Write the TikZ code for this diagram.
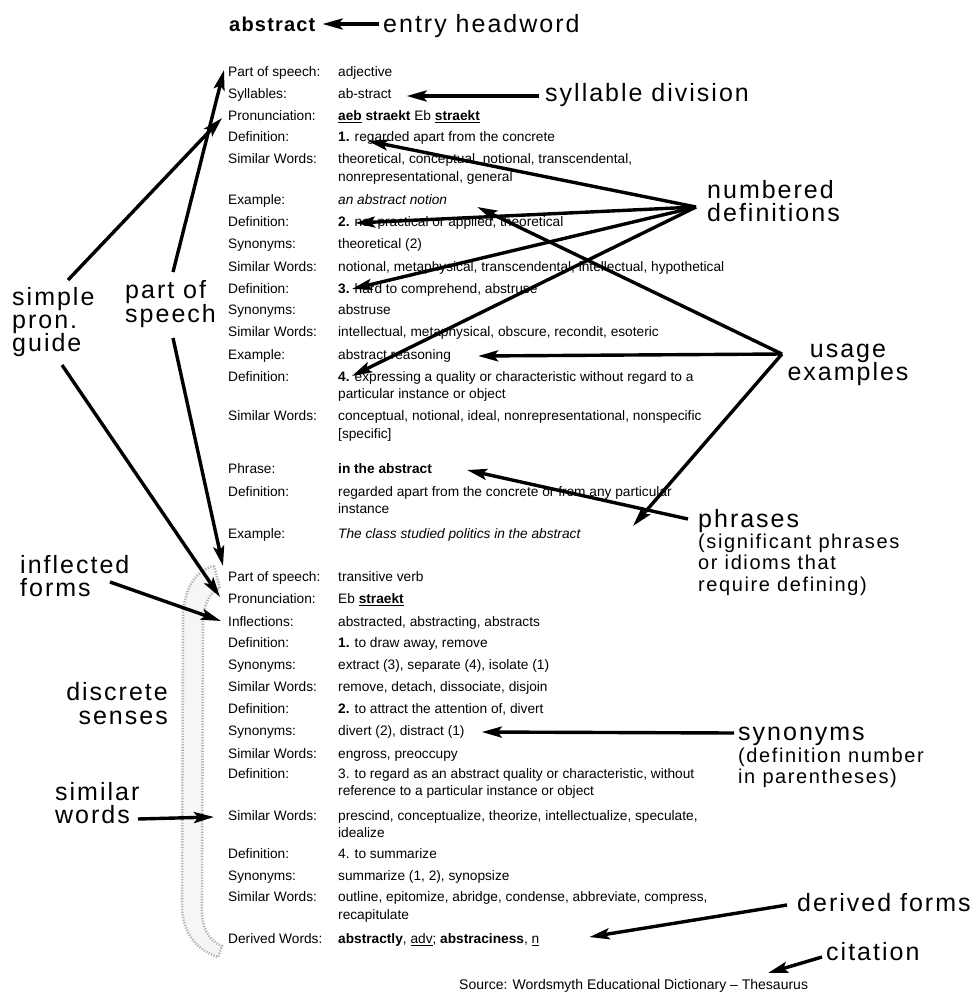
\documentclass[tikz,border=0pt]{standalone}
\usepackage{fontspec}
\setmainfont{Liberation Sans}
\newfontfamily\callfont[LetterSpace=8]{Liberation Sans}
\newfontfamily\headfont[LetterSpace=6]{Liberation Sans}
\usetikzlibrary{arrows.meta,calc}
\tikzset{
  lab/.style={anchor=west,inner sep=0pt,font=\fontsize{13.7}{17}\selectfont,text height=10pt,text depth=3pt},
  call/.style={anchor=north west,align=left,inner sep=0pt,font=\callfont\fontsize{25}{23}\selectfont},
  callwide/.style={call,font=\callfont\fontsize{25}{24}\selectfont},
  callc/.style={call,anchor=north,align=center},
  callr/.style={callwide,anchor=north east,align=right},
  sub/.style={anchor=north west,align=left,inner sep=0pt,font=\callfont\fontsize{20}{21.6}\selectfont},
  arr/.style={draw=black,line width=3.4pt,-{Stealth[length=20pt,width=11pt,inset=4pt]}},
  band/.style={draw=gray!60,line width=2.6pt,dash pattern=on 1.2pt off 1.5pt,fill=gray!7},
}
\newcommand\dictrow[4]{\node[lab] (l#1) at (228,#2) {#3};\node[lab] (v#1) at (338,#2) {#4};}
\newcommand\dictcont[3]{\node[lab] (v#1) at (338,#2) {#3};}
\begin{document}
\lineskiplimit=-100pt\relax
\begin{tikzpicture}[x=1pt,y=-1pt]
\useasboundingbox[fill=white] (0,0) rectangle (980,994);
% discrete senses band
\path[band] (214,566) .. controls (195,570) and (184,590) .. (183,615) -- (182,905)
  .. controls (182,932) and (196,950) .. (218,957) -- (222,946)
  .. controls (207,940) and (201,925) .. (202,905) -- (203,622)
  .. controls (204,603) and (210,592) .. (220,588) -- cycle;
% headword
\node[inner sep=0pt,anchor=base west,font=\headfont\bfseries\fontsize{20}{24}\selectfont] (abstract) at (229,31) {abstract};
% entry rows
\dictrow{1}{73}{Part of speech:}{adjective}
\dictrow{2}{95}{Syllables:}{ab-stract}
\dictrow{3}{117}{Pronunciation:}{\textbf{\underline{aeb}} \textbf{straekt} Eb \textbf{\underline{straekt}}}
\dictrow{4}{138}{Definition:}{\textbf{1.} regarded apart from the concrete}
\dictrow{5}{160}{Similar Words:}{theoretical, conceptual, notional, transcendental,}
\dictcont{5b}{178}{nonrepresentational, general}
\dictrow{6}{201}{Example:}{\textit{an abstract notion}}
\dictrow{7}{223}{Definition:}{\textbf{2.} not practical or applied, theoretical}
\dictrow{8}{245}{Synonyms:}{theoretical (2)}
\dictrow{9}{268}{Similar Words:}{notional, metaphysical, transcendental, intellectual, hypothetical}
\dictrow{10}{290}{Definition:}{\textbf{3.} hard to comprehend, abstruse}
\dictrow{11}{311}{Synonyms:}{abstruse}
\dictrow{12}{333}{Similar Words:}{intellectual, metaphysical, obscure, recondit, esoteric}
\dictrow{13}{356}{Example:}{abstract reasoning}
\dictrow{14}{378}{Definition:}{\textbf{4.} expressing a quality or characteristic without regard to a}
\dictcont{14b}{395}{particular instance or object}
\dictrow{15}{417}{Similar Words:}{conceptual, notional, ideal, nonrepresentational, nonspecific}
\dictcont{15b}{435}{[specific]}
\dictrow{16}{470}{Phrase:}{\textbf{in the abstract}}
\dictrow{17}{493}{Definition:}{regarded apart from the concrete or from any particular}
\dictcont{17b}{510}{instance}
\dictrow{18}{535}{Example:}{\textit{The class studied politics in the abstract}}
\dictrow{19}{578}{Part of speech:}{transitive verb}
\dictrow{20}{600}{Pronunciation:}{Eb \textbf{\underline{straekt}}}
\dictrow{21}{623}{Inflections:}{abstracted, abstracting, abstracts}
\dictrow{22}{644}{Definition:}{\textbf{1.} to draw away, remove}
\dictrow{23}{666}{Synonyms:}{extract (3), separate (4), isolate (1)}
\dictrow{24}{688}{Similar Words:}{remove, detach, dissociate, disjoin}
\dictrow{25}{710}{Definition:}{\textbf{2.} to attract the attention of, divert}
\dictrow{26}{732}{Synonyms:}{divert (2), distract (1)}
\dictrow{27}{755}{Similar Words:}{engross, preoccupy}
\dictrow{28}{775}{Definition:}{3. to regard as an abstract quality or characteristic, without}
\dictcont{28b}{792}{reference to a particular instance or object}
\dictrow{29}{817}{Similar Words:}{prescind, conceptualize, theorize, intellectualize, speculate,}
\dictcont{29b}{834}{idealize}
\dictrow{30}{855}{Definition:}{4. to summarize}
\dictrow{31}{877}{Synonyms:}{summarize (1, 2), synopsize}
\dictrow{32}{898}{Similar Words:}{outline, epitomize, abridge, condense, abbreviate, compress,}
\dictcont{32b}{916}{recapitulate}
\dictrow{33}{940}{Derived Words:}{\textbf{abstractly}, \underline{adv}; \textbf{abstraciness}, \underline{n}}
\node[anchor=base west,inner sep=0pt,font=\fontsize{14}{17}\selectfont] (src) at (459,989) {Source: Wordsmyth Educational Dictionary – Thesaurus};
% callout labels
\node[call] (headw) at (383,14) {entry headword};
\node[call] (syll) at (545,83) {syllable division};
\node[call] (numb) at (707,180) {numbered\\definitions};
\node[callc] (usage) at (848,344) {usage\\examples};
\node[call] (phr) at (698,509) {phrases};
\node[sub] (phrsub) at (698,533.5) {(significant phrases\\or idioms that\\require defining)};
\node[call] (syn) at (738,727) {synonyms};
\node[sub] (synsub) at (738,747.5) {(definition number\\in parentheses)};
\node[call] (der) at (797,893) {derived forms};
\node[call] (cit) at (826,942) {citation};
\node[call] (simp) at (12,287) {simple\\pron.\\guide};
\node[callwide] (pos) at (125,280) {part of\\speech};
\node[call] (infl) at (20,555) {inflected\\forms};
\node[callr] (disc) at (168,682) {discrete\\senses};
\node[call] (sim) at (55,782) {similar\\words};
% arrows
\draw[arr] ($(headw.north west)+(-4,10)$) -- ($(abstract.base east)+(7,-7)$);
\draw[arr] ($(syll.north west)+(-6,13)$) -- ($(v2.east)+(15,1)$);
\coordinate (nd) at ($(numb.north west)+(-11,27)$);
\draw[arr] (nd) -- ($(v4.west)+(30,3)$);
\draw[arr] (nd) -- ($(v7.west)+(17,0)$);
\draw[arr] (nd) -- ($(v10.west)+(14,-1)$);
\draw[arr] (nd) -- ($(v14.west)+(14,-2)$);
\coordinate (ue) at ($(usage.north)+(-66,10)$);
\draw[arr] (ue) -- ($(v6.east)+(30,6)$);
\draw[arr] (ue) -- ($(v13.east)+(27,0)$);
\draw[arr] (ue) -- ($(v18.east)+(52,-9)$);
\draw[arr] ($(phr.north west)+(-10,10)$) -- ($(v16.east)+(35,0)$);
\draw[arr] ($(syn.north west)+(-4,6)$) -- ($(v26.east)+(17,0)$);
\draw[arr] ($(der.north west)+(-10,12)$) -- ($(v33.east)+(50,-3)$);
\draw[arr] ($(cit.north west)+(-4,15)$) -- ($(src.base west)+(309,-16)$);
\draw[arr] ($(pos.north west)+(48,-8)$) -- ($(l1.west)+(-4,-3)$);
\draw[arr] ($(simp.north west)+(56,-7)$) -- ($(l3.west)+(-6,1)$);
\draw[arr] ($(pos.north west)+(48,58)$) -- ($(l19.west)+(-5,-12)$);
\draw[arr] ($(simp.north west)+(50,78)$) -- ($(l20.west)+(-8,-3)$);
\draw[arr] ($(infl.north west)+(90,27)$) -- ($(l21.west)+(-7,-2)$);
\draw[arr] ($(sim.north west)+(83,37)$) -- ($(l29.west)+(-14,0)$);
\end{tikzpicture}
\end{document}
